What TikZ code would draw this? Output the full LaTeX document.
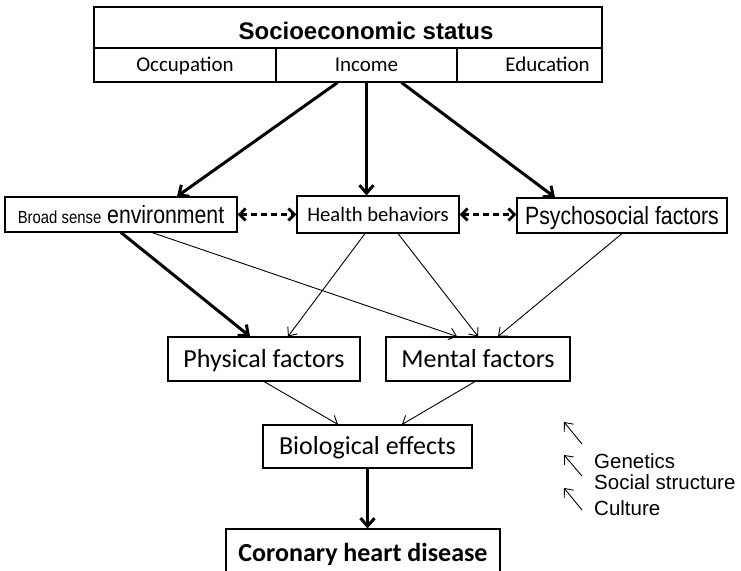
\documentclass[tikz,border=0pt]{standalone}
\usepackage{fontspec}
\setmainfont{Carlito}
\newfontfamily\arialfont{Liberation Sans}
\newfontfamily\narrowfont[FakeStretch=0.85]{Liberation Sans}
\usetikzlibrary{arrows.meta,calc}

\begin{document}
\begin{tikzpicture}[
  x=1pt, y=-1pt,
  box/.style={draw, line width=1.1pt, inner sep=0pt, align=center},
  celltext/.style={font=\fontsize{21}{25}\selectfont, text height=17pt, text depth=3.5pt},
  cell/.style={box, celltext, minimum height=34pt},
  big/.style={font=\fontsize{26}{30}\selectfont, text height=21pt, text depth=4.3pt},
  narrow/.style={font=\narrowfont\fontsize{25}{28}\selectfont, text height=22pt, text depth=4.1pt},
  heavy/.style={-{Straight Barb[length=8pt, width=14pt]}, line width=3pt},
  light/.style={-{Straight Barb[length=7pt, width=12pt]}, line width=0.9pt},
  dasharrow/.style={{Straight Barb[length=6pt, width=12pt]}-{Straight Barb[length=6pt, width=12pt]}, line width=2.8pt, dash pattern=on 6pt off 4pt},
  note/.style={font=\arialfont\fontsize{20.5}{24}\selectfont, anchor=base west, inner sep=0pt},
]
\useasboundingbox (0,0) rectangle (741,570);

% ====== Socioeconomic status table ======
\node[box, minimum width=508pt, minimum height=41pt,
  label={[xshift=18pt, yshift=-3pt, inner sep=0pt, text height=21pt, text depth=3.8pt,
          font=\arialfont\bfseries\fontsize{24}{28}\selectfont]center:Socioeconomic status}] (ses) at (348,27.5) {};
\node[cell, minimum width=182pt] (occ) at (185,65) {Occupation};
\node[cell, minimum width=181pt] (inc) at (366.5,65) {Income};
\node[box, minimum width=145pt, minimum height=34pt,
  label={[xshift=18pt, inner sep=0pt, celltext]center:Education}] (edu) at (529.5,65) {};

% ====== Middle row ======
\node[box, narrow, minimum width=232pt, minimum height=35pt] (env) at (121,214.5)
  {{\fontsize{17.5}{20}\selectfont Broad sense} environment};
\node[box, minimum width=162pt, minimum height=37pt, font=\fontsize{20.6}{24}\selectfont,
  text height=16.8pt, text depth=3.5pt] (hb) at (378,214.5) {Health behaviors};
\node[box, narrow, minimum width=210pt, minimum height=35pt] (psy) at (622,215.5) {Psychosocial factors};

% ====== Factors and outcome ======
\node[box, big, minimum width=192pt, minimum height=44pt] (phy) at (264,359) {Physical factors};
\node[box, big, minimum width=184pt, minimum height=44pt] (men) at (478,359) {Mental factors};
\node[box, big, minimum width=209pt, minimum height=43pt] (bio) at (367.5,446.5) {Biological effects};
\node[box, big, minimum width=274pt, minimum height=48pt, font=\bfseries\fontsize{26}{30}\selectfont] (chd) at (363,553) {Coronary heart disease};

% ====== Arrows ======
\draw[heavy] ([xshift=-29pt]inc.south) -- ([xshift=56pt]env.north);
\draw[heavy] (inc.south) -- (inc.south |- hb.north);
\draw[heavy] ([xshift=35pt]inc.south) -- ([xshift=-67pt]psy.north);

\draw[dasharrow] (env.east) -- (env.east -| hb.west);
\draw[dasharrow] (hb.east) -- (hb.east -| psy.west);

\draw[heavy] (env.south) -- ([xshift=-14pt]phy.north);
\draw[light] ([xshift=31pt]env.south) -- ([xshift=-21pt]men.north);
\draw[light] ([xshift=-13pt]hb.south) -- ([xshift=24pt]phy.north);
\draw[light] ([xshift=20pt]hb.south) -- (men.north);
\draw[light] (psy.south) -- ([xshift=20pt]men.north);

\draw[light] (phy.south) -- ([xshift=-29.5pt]bio.north);
\draw[light] ([xshift=-3pt]men.south) -- ([xshift=34.5pt]bio.north);
\draw[heavy] (bio.south) -- (bio.south |- chd.north);

% ====== Other influences ======
\coordinate (g1a) at (582,444);
\coordinate (g1b) at (564,422);
\coordinate (g2a) at (582,476);
\coordinate (g2b) at (564,455);
\coordinate (g3a) at (582,510);
\coordinate (g3b) at (564,488);
\draw[light] (g1a) -- (g1b);
\draw[light] (g2a) -- (g2b);
\draw[light] (g3a) -- (g3b);
\node[note] (gen) at (594,468) {Genetics};
\node[note] (soc) at (594,489) {Social structure};
\node[note] (cul) at (594,515) {Culture};

\end{tikzpicture}
\end{document}
